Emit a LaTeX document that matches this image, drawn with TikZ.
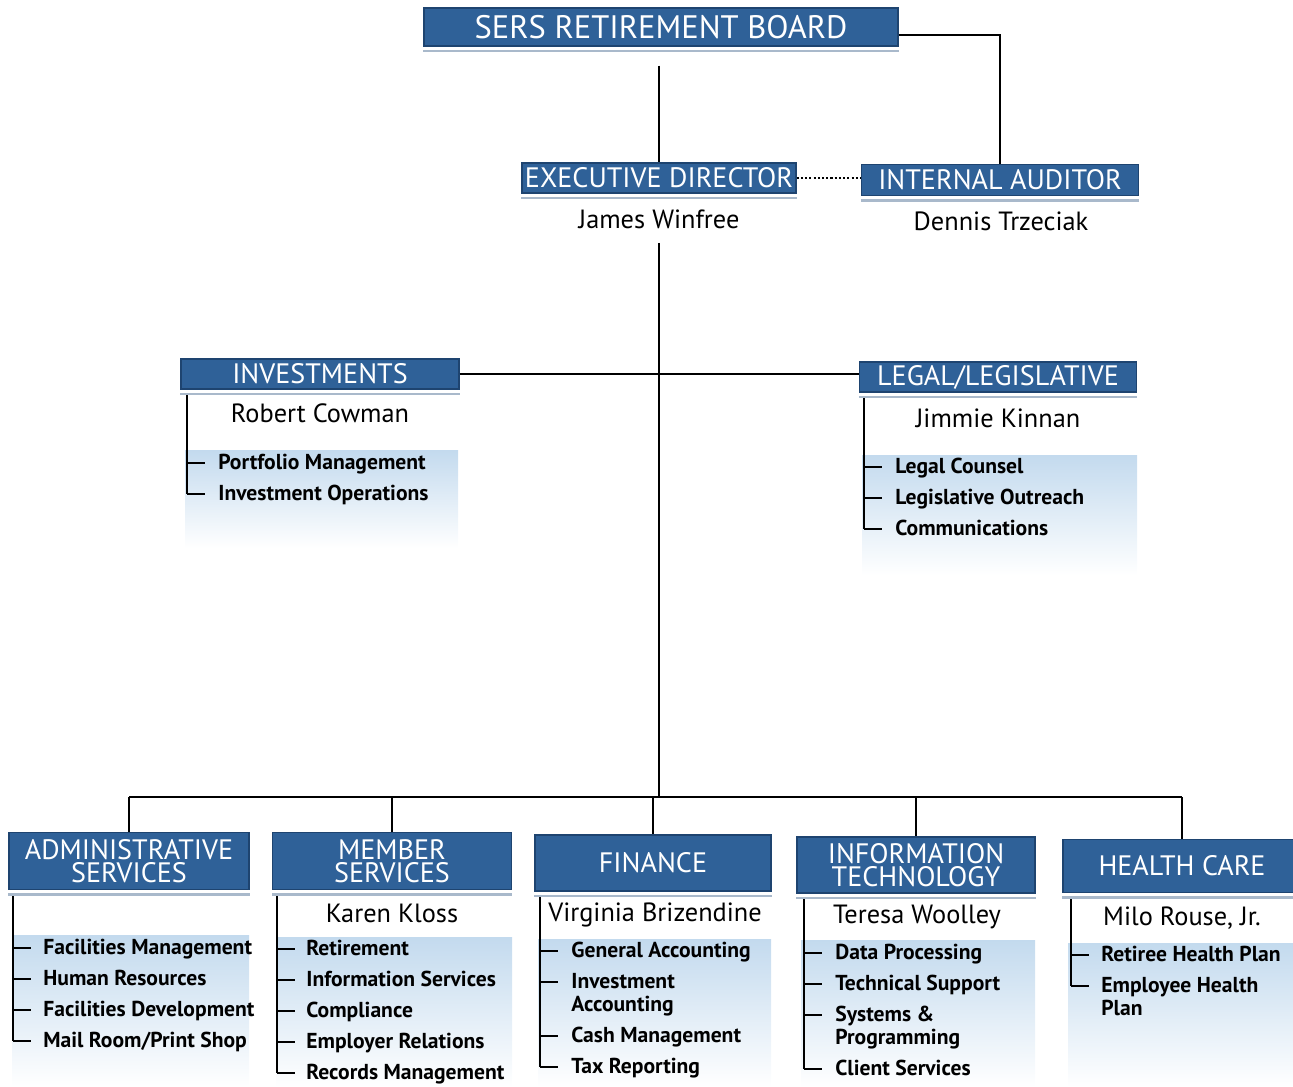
\documentclass[tikz,border=0pt]{standalone}
\usepackage{fontspec}
\setmainfont{PT Sans}
\usetikzlibrary{calc}

\definecolor{boxblue}{HTML}{2F6198}
\definecolor{boxedge}{HTML}{1E4470}
\definecolor{panelblue}{HTML}{C3DAEE}
\definecolor{stripgray}{HTML}{A9B9CB}

\def\u{0.02cm}
\tikzset{
  headbox/.style={fill=boxblue, draw=boxedge, line width=0.8pt, text=white, inner sep=0pt,
    align=center, font=\fontsize{16}{13}\selectfont},
  person/.style={font=\fontsize{15}{18}\selectfont, inner sep=0pt},
  unit/.style={font=\bfseries\fontsize{12.3}{13}\selectfont, anchor=base west, align=left, inner sep=0pt},
  strip/.style={stripgray, line width=1.5pt},
  tree/.style={line width=1pt},
}

\begin{document}
\begin{tikzpicture}[x=\u, y=-\u]
    \useasboundingbox (0,0) rectangle (1293,1087);

    % Shaded panels behind the units
    \shade[top color=panelblue, bottom color=white] (185,450) rectangle (458,548);
    \shade[top color=panelblue, bottom color=white] (862,455) rectangle (1137,575);
    \shade[top color=panelblue, bottom color=white] (12,935) rectangle (249,1087);
    \shade[top color=panelblue, bottom color=white] (276,937) rectangle (512,1087);
    \shade[top color=panelblue, bottom color=white] (538,939) rectangle (771,1087);
    \shade[top color=panelblue, bottom color=white] (801,940) rectangle (1035,1087);
    \shade[top color=panelblue, bottom color=white] (1068,943) rectangle (1293,1087);

    % Top of the chart
    \node[headbox, minimum width=474*\u, minimum height=38*\u, font=\fontsize{18.5}{18}\selectfont] (board) at (661,27) {SERS RETIREMENT BOARD};
    \node[headbox, minimum width=274*\u, minimum height=30*\u] (exec) at (659,178) {EXECUTIVE DIRECTOR};
    \node[headbox, minimum width=277*\u, minimum height=31*\u] (auditor) at (1000,180) {INTERNAL AUDITOR};
    \node[person] (winfree) at (659,219) {James Winfree};
    \node[person] (trzeciak) at (1001,221) {Dennis Trzeciak};

    % Staff offices
    \node[headbox, minimum width=278*\u, minimum height=30*\u] (invest) at (320,374) {INVESTMENTS};
    \node[headbox, minimum width=277*\u, minimum height=30*\u] (legal) at (998,377) {LEGAL/LEGISLATIVE};
    \node[person] (cowman) at (320,413) {Robert Cowman};
    \node[person] (kinnan) at (998,418) {Jimmie Kinnan};

    % Divisions
    \node[headbox, minimum width=240*\u, minimum height=57*\u] (admin) at (129,861) {ADMINISTRATIVE\\SERVICES};
    \node[headbox, minimum width=239*\u, minimum height=57*\u] (member) at (392,861) {MEMBER\\SERVICES};
    \node[headbox, minimum width=236*\u, minimum height=56*\u] (finance) at (653,863) {FINANCE};
    \node[headbox, minimum width=238*\u, minimum height=56*\u] (itech) at (916,865) {INFORMATION\\TECHNOLOGY};
    \node[headbox, minimum width=238*\u, minimum height=53*\u] (health) at (1182,866) {HEALTH CARE};
    \node[person] (kloss) at (392,913) {Karen Kloss};
    \node[person] (brizendine) at (655,915) {Virginia Brizendine};
    \node[person] (woolley) at (917,917) {Teresa Woolley};
    \node[person] (rouse) at (1182,918) {Milo Rouse, Jr.};

    % Light strips under the boxes
    \foreach \n in {board,exec,auditor,invest,legal,admin,member,finance,itech,health}
        \draw[strip] ([yshift=-2.5pt]\n.south west) -- ([yshift=-2.5pt]\n.south east);

    % Reporting lines
    \coordinate (bus) at (657,797);
    \draw[tree, shorten <=19*\u] (board.south -| exec.north) -- (exec.north);
    \draw[tree] ([yshift=-0.16cm]board.east) -| (auditor.north);
    \draw[line width=1.2pt, dash pattern=on 1.2pt off 1.2pt] (exec.east) -- (exec.east -| auditor.west);
    \draw[tree] (invest.east) -- (invest.east -| legal.west);
    \draw[tree, shorten <=14*\u] (winfree.south) -- (winfree.south |- bus);
    \draw[tree] (admin.north |- bus) -- (health.north |- bus);
    \foreach \n in {admin,member,finance,itech,health}
        \draw[tree] (\n.north |- bus) -- (\n.north);

    % Units under each office (\d = offset of the last baseline)
    \draw[tree] (187,395) -- (187,494);
    \foreach \y/\t/\d in {463/Portfolio Management/6, 494/Investment Operations/6}{
        \draw[tree] (187,\y) -- ++(18,0);
        \node[unit] (inv\y) at (218,\y+\d) {\t};
    }
    \draw[tree] (864,398) -- (864,529);
    \foreach \y/\t/\d in {467/Legal Counsel/6, 498/Legislative Outreach/6, 529/Communications/6}{
        \draw[tree] (864,\y) -- ++(18,0);
        \node[unit] (leg\y) at (895,\y+\d) {\t};
    }
    \draw[tree] (13,896) -- (13,1041);
    \foreach \y/\t/\d in {948/Facilities Management/6, 979/Human Resources/6, 1010/Facilities Development/6, 1041/{Mail Room/Print Shop}/6}{
        \draw[tree] (13,\y) -- ++(18,0);
        \node[unit] (adm\y) at (43,\y+\d) {\t};
    }
    \draw[tree] (277,896) -- (277,1073);
    \foreach \y/\t/\d in {949/Retirement/6, 980/Information Services/6, 1011/Compliance/6, 1042/Employer Relations/6, 1073/Records Management/6}{
        \draw[tree] (277,\y) -- ++(18,0);
        \node[unit] (mem\y) at (306,\y+\d) {\t};
    }
    \draw[tree] (540,897) -- (540,1067);
    \foreach \y/\t/\d in {951/General Accounting/6, 982/{Investment\\Accounting}/29, 1036/Cash Management/6, 1067/Tax Reporting/6}{
        \draw[tree] (540,\y) -- ++(18,0);
        \node[unit] (fin\y) at (571,\y+\d) {\t};
    }
    \draw[tree] (804,899) -- (804,1069);
    \foreach \y/\t/\d in {953/Data Processing/6, 984/Technical Support/6, 1015/{Systems \&\\Programming}/29, 1069/Client Services/6}{
        \draw[tree] (804,\y) -- ++(18,0);
        \node[unit] (it\y) at (835,\y+\d) {\t};
    }
    \draw[tree] (1071,899) -- (1071,986);
    \foreach \y/\t/\d in {955/Retiree Health Plan/6, 986/{Employee Health\\Plan}/29}{
        \draw[tree] (1071,\y) -- ++(18,0);
        \node[unit] (hc\y) at (1101,\y+\d) {\t};
    }
\end{tikzpicture}
\end{document}
